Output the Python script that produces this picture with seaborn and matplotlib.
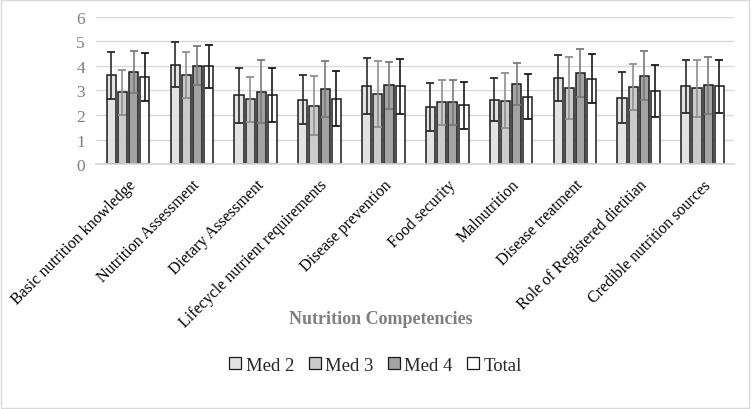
import matplotlib
matplotlib.use("Agg")
import matplotlib.pyplot as plt
import seaborn as sns
import pandas as pd
import numpy as np
from matplotlib.lines import Line2D

categories = ["Basic nutrition knowledge", "Nutrition Assessment", "Dietary Assessment",
              "Lifecycle nutrient requirements", "Disease prevention", "Food security",
              "Malnutrition", "Disease treatment", "Role of Registered dietitian",
              "Credible nutrition sources"]
groups = ["Med 2", "Med 3", "Med 4", "Total"]

med2_mean = [3.62, 4.05, 2.80, 2.63, 3.18, 2.34, 2.62, 3.50, 2.71, 3.17]
med2_sd   = [0.95, 0.91, 1.11, 1.01, 1.12, 0.97, 0.88, 0.92, 1.02, 1.07]
med3_mean = [2.93, 3.64, 2.64, 2.37, 2.87, 2.51, 2.59, 3.08, 3.14, 3.08]
med3_sd   = [0.92, 0.94, 0.92, 1.20, 1.34, 0.93, 1.10, 1.26, 0.95, 1.14]
med4_mean = [3.75, 4.01, 2.95, 3.06, 3.21, 2.51, 3.25, 3.71, 3.60, 3.21]
med4_sd   = [0.86, 0.79, 1.29, 1.14, 0.96, 0.93, 0.86, 0.98, 1.00, 1.15]
tot_mean  = [3.55, 3.98, 2.83, 2.67, 3.16, 2.40, 2.75, 3.48, 2.97, 3.16]
tot_sd    = [0.96, 0.88, 1.10, 1.10, 1.10, 0.96, 0.92, 1.01, 1.05, 1.09]

means = [med2_mean, med3_mean, med4_mean, tot_mean]
sds = [med2_sd, med3_sd, med4_sd, tot_sd]
fill_colors = ["#e3e3e3", "#cbcbcb", "#a3a3a3", "#ffffff"]
err_colors = ["#2b2b2b", "#8f8f8f", "#7a7a7a", "#1a1a1a"]

rows = []
for g, m in zip(groups, means):
    for c, v in zip(categories, m):
        rows.append({"cat": c, "grp": g, "val": v})
df = pd.DataFrame(rows)

sns.set_theme(style="white")
plt.rcParams['font.family'] = ['Liberation Serif', 'DejaVu Serif']

fig = plt.figure(figsize=(7.51, 4.10), dpi=100)
ax = fig.add_axes([0.128, 0.597, 0.85, 0.36])

sns.barplot(data=df, x="cat", y="val", hue="grp", order=categories, hue_order=groups,
            palette=fill_colors, width=0.70, gap=0.18, edgecolor="#1a1a1a",
            linewidth=1.1, errorbar=None, legend=False, ax=ax)

# error bars at bar positions
n = len(categories)
for gi, patch_group in enumerate([ax.patches[i * n:(i + 1) * n] for i in range(len(groups))]):
    xs = [p.get_x() + p.get_width() / 2 for p in patch_group]
    ax.errorbar(xs, means[gi], yerr=sds[gi], fmt="none", ecolor=err_colors[gi],
                elinewidth=1.2, capsize=2.8, capthick=1.3, zorder=5)

ax.set_ylim(0, 6)
ax.set_yticks(range(0, 7))
ax.set_xlim(-0.5, n - 0.5)
ax.yaxis.grid(True, color="#d9d9d9", linewidth=1.0)
ax.set_axisbelow(True)
for s in ["top", "right", "left"]:
    ax.spines[s].set_visible(False)
ax.spines["bottom"].set_color("#d9d9d9")
ax.tick_params(axis="y", labelsize=12.5, colors="#7f7f7f", length=0, pad=8)
ax.tick_params(axis="x", labelsize=11.5, colors="black", length=0, pad=9)
plt.setp(ax.get_xticklabels(), rotation=45, ha="right", rotation_mode="anchor")
ax.set_ylabel("")
ax.set_xlabel("Nutrition Competencies", fontsize=13, fontweight="bold", color="#7f7f7f",
              labelpad=0)
ax.xaxis.set_label_coords(0.446, -0.99)

handles = [Line2D([], [], marker="s", linestyle="none", markersize=9,
                  markerfacecolor=fc, markeredgecolor="#1a1a1a", markeredgewidth=0.9)
           for fc in fill_colors]
fig.legend(handles, groups, loc="center", bbox_to_anchor=(0.498, 0.107), ncol=4,
           frameon=False, fontsize=13.5, handletextpad=0.05, columnspacing=0.6,
           handlelength=1.0)

border = plt.Rectangle((0.001, 0.002), 0.997, 0.995, transform=fig.transFigure,
                       fill=False, edgecolor="#d9d9d9", linewidth=1.0)
fig.patches.append(border)

fig.savefig("out.png", dpi=100, facecolor="white")
